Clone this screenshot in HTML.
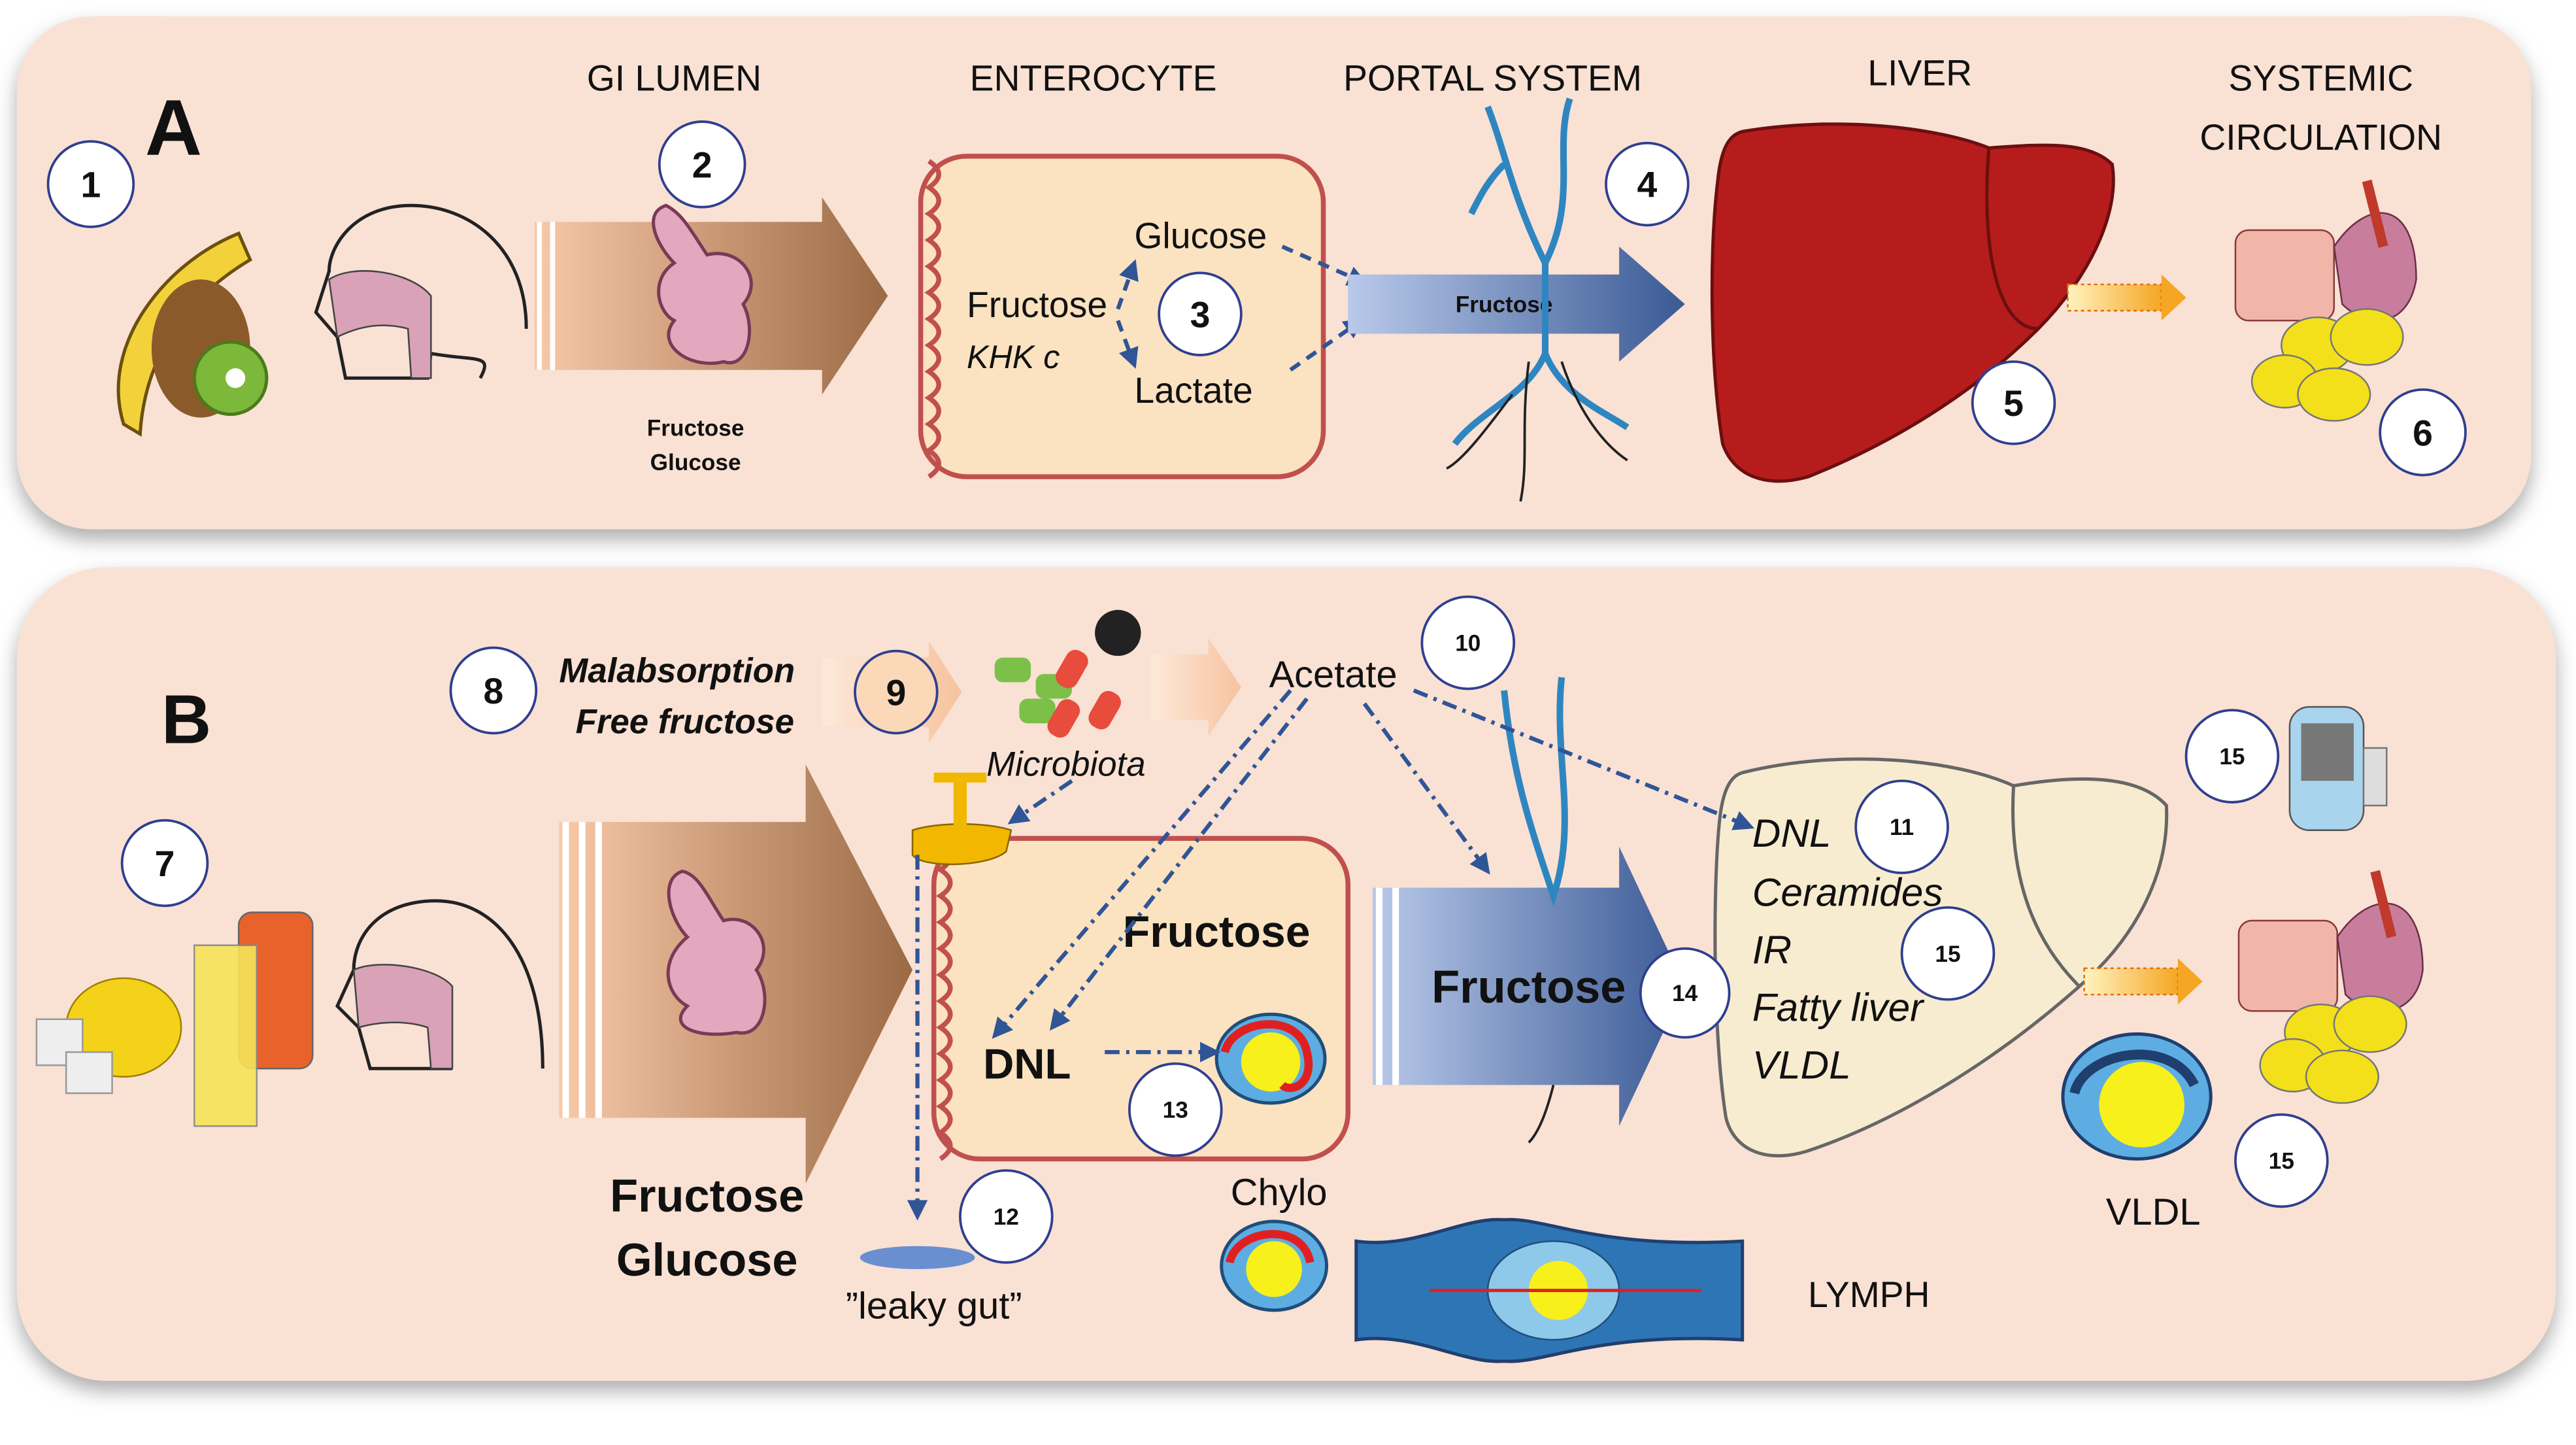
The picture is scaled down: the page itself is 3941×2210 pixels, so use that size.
<!DOCTYPE html>
<html><head><meta charset="utf-8">
<style>
html,body{margin:0;padding:0;background:#fff;}
svg{display:block;}
text{font-family:"Liberation Sans",sans-serif;fill:#111;}
</style></head>
<body>
<svg width="3941" height="2210" viewBox="0 0 1567 879" xmlns="http://www.w3.org/2000/svg">
<defs>
<filter id="sh" x="-5%" y="-10%" width="110%" height="130%"><feDropShadow dx="0" dy="6" stdDeviation="6" flood-color="#888" flood-opacity="0.7"/></filter>
<linearGradient id="ga" x1="0" x2="1"><stop offset="0" stop-color="#f8c9a8"/><stop offset="1" stop-color="#9b6a45"/></linearGradient>
<linearGradient id="gb" x1="0" x2="1"><stop offset="0" stop-color="#b9c9ea"/><stop offset="1" stop-color="#3a5a95"/></linearGradient>
<linearGradient id="gc" x1="0" x2="1"><stop offset="0" stop-color="#fde9d9"/><stop offset="1" stop-color="#f6c39e"/></linearGradient>
<linearGradient id="go" x1="0" x2="1"><stop offset="0" stop-color="#fff3c0"/><stop offset="1" stop-color="#f5a623"/></linearGradient>
<marker id="ah" viewBox="0 0 10 10" refX="8" refY="5" markerWidth="5" markerHeight="5" orient="auto"><path d="M0,0L10,5L0,10z" fill="#2f5597"/></marker>
</defs>

<rect x="10" y="10" width="1530" height="312" rx="45" fill="#f9e1d4" filter="url(#sh)"/>
<rect x="10" y="345" width="1545" height="495" rx="55" fill="#f9e1d4" filter="url(#sh)"/>

<g font-size="22" text-anchor="middle">
<text x="410" y="55">GI LUMEN</text>
<text x="665" y="55">ENTEROCYTE</text>
<text x="908" y="55">PORTAL SYSTEM</text>
<text x="1168" y="52">LIVER</text>
<text x="1412" y="55">SYSTEMIC</text>
<text x="1412" y="91">CIRCULATION</text>
</g>
<text x="88" y="94" font-size="48" font-weight="bold">A</text>
<text x="98" y="452" font-size="42" font-weight="bold">B</text>

<path d="M145,142 C100,160 60,210 75,258 L85,264 C88,215 115,180 152,158 Z" fill="#f3d13a" stroke="#6b5010" stroke-width="2"/>
<ellipse cx="122" cy="212" rx="30" ry="42" fill="#8b5a2b"/>
<circle cx="140" cy="230" r="22" fill="#7cb83a" stroke="#4d7a1a" stroke-width="2"/>
<circle cx="143" cy="230" r="6" fill="#fff"/>
<path d="M320,200 C320,150 285,125 250,125 C215,125 200,150 200,165 L192,190 L205,205 L210,230 L260,230 L262,215 C290,220 300,215 292,230" fill="none" stroke="#222" stroke-width="2"/>
<path d="M200,170 C215,160 250,165 262,180 L262,230 L250,230 L248,200 C230,195 215,200 205,205 Z" fill="#d9a2b6" stroke="#444"/>
<polygon points="325,135 500,135 500,120 540,180 500,240 500,225 325,225" fill="url(#ga)"/>
<line x1="328" y1="135" x2="328" y2="225" stroke="#fff" stroke-width="3"/>
<line x1="336" y1="135" x2="336" y2="225" stroke="#fff" stroke-width="3"/>
<path d="M405,125 C390,130 400,150 410,160 C395,170 400,190 410,195 C398,210 420,225 440,220 C455,225 460,200 452,185 C465,170 450,150 430,155 C420,140 415,130 405,125Z" fill="#e3a8bd" stroke="#7a3a55" stroke-width="2"/>
<text x="423" y="265" font-size="14" font-weight="bold" text-anchor="middle">Fructose</text>
<text x="423" y="286" font-size="14" font-weight="bold" text-anchor="middle">Glucose</text>
<rect x="560" y="95" width="245" height="195" rx="28" fill="#fbe2c0" stroke="#c0504d" stroke-width="3"/>
<path d="M565,98 q12,8 0,16 q12,8 0,16 q12,8 0,16 q12,8 0,16 q12,8 0,16 q12,8 0,16 q12,8 0,16 q12,8 0,16 q12,8 0,16 q12,8 0,16 q12,8 0,16 q12,8 0,16" fill="none" stroke="#c0504d" stroke-width="3"/>
<text x="588" y="193" font-size="22">Fructose</text>
<text x="588" y="224" font-size="20" font-style="italic">KHK c</text>
<text x="690" y="151" font-size="22">Glucose</text>
<text x="690" y="245" font-size="22">Lactate</text>
<g fill="none" stroke="#2f5597" stroke-width="2.5" stroke-dasharray="7,5">
<path d="M680,188 L690,160" marker-end="url(#ah)"/>
<path d="M680,195 L690,222" marker-end="url(#ah)"/>
<path d="M780,150 L830,172" marker-end="url(#ah)"/>
<path d="M785,225 L828,195" marker-end="url(#ah)"/>
</g>
<polygon points="820,167 985,167 985,150 1025,185 985,220 985,203 820,203" fill="url(#gb)"/>
<text x="915" y="190" font-size="14" text-anchor="middle" font-weight="bold" fill="#1a2a4a">Fructose</text>
<g fill="none" stroke="#2e86c1" stroke-width="4">
<path d="M905,65 C915,90 920,120 940,160 C960,120 945,90 955,60"/>
<path d="M940,160 L940,215 C930,240 900,250 885,270"/>
<path d="M940,215 C950,240 975,250 990,260"/>
<path d="M915,100 C905,110 900,120 895,130"/>
</g>
<g fill="none" stroke="#222" stroke-width="1.5">
<path d="M930,220 C925,260 930,280 925,305"/><path d="M950,220 C960,250 975,270 990,280"/><path d="M920,240 C905,260 890,280 880,285"/>
</g>
<path d="M1060,80 C1120,70 1180,78 1210,90 C1240,88 1270,85 1285,100 C1290,130 1270,170 1240,200 C1200,240 1150,270 1100,290 C1075,297 1055,290 1048,270 C1040,220 1040,150 1045,110 C1047,90 1052,82 1060,80Z" fill="#b71c1c" stroke="#6b0f0f" stroke-width="2"/>
<path d="M1210,90 C1205,150 1215,200 1240,200" fill="none" stroke="#6b0f0f" stroke-width="2"/>
<rect x="1258" y="173" width="57" height="16" fill="url(#go)" stroke="#e36c09" stroke-dasharray="2,2"/>
<polygon points="1315,167 1330,181 1315,195" fill="#f5a623"/>
<g>
<rect x="1360" y="140" width="60" height="55" rx="8" fill="#f1b6a8" stroke="#8a3a3a"/>
<path d="M1420,150 C1440,120 1470,120 1470,170 C1465,200 1440,200 1425,185Z" fill="#c77d9b" stroke="#6a2f4a"/>
<path d="M1440,110 L1450,150" stroke="#c0392b" stroke-width="6"/>
<ellipse cx="1410" cy="210" rx="22" ry="17" fill="#f4e01a" stroke="#777"/>
<ellipse cx="1440" cy="205" rx="22" ry="17" fill="#f4e01a" stroke="#777"/>
<ellipse cx="1390" cy="232" rx="20" ry="16" fill="#f4e01a" stroke="#777"/>
<ellipse cx="1420" cy="240" rx="22" ry="16" fill="#f4e01a" stroke="#777"/>
</g>

<text x="340" y="415" font-size="21" font-weight="bold" font-style="italic">Malabsorption</text>
<text x="350" y="446" font-size="21" font-weight="bold" font-style="italic">Free fructose</text>
<polygon points="500,400 565,400 565,390 585,421 565,452 565,442 500,442" fill="url(#gc)"/>
<polygon points="700,398 735,398 735,388 755,418 735,448 735,438 700,438" fill="url(#gc)"/>
<rect x="605" y="400" width="22" height="15" rx="5" fill="#7cc04a"/>
<rect x="630" y="410" width="22" height="15" rx="5" fill="#7cc04a"/>
<rect x="620" y="425" width="22" height="15" rx="5" fill="#7cc04a"/>
<rect x="645" y="395" width="14" height="24" rx="6" fill="#e74c3c" transform="rotate(30 652 407)"/>
<rect x="640" y="425" width="14" height="24" rx="6" fill="#e74c3c" transform="rotate(30 647 437)"/>
<rect x="665" y="420" width="14" height="24" rx="6" fill="#e74c3c" transform="rotate(30 672 432)"/>
<circle cx="680" cy="385" r="14" fill="#222"/>
<text x="600" y="472" font-size="21" font-style="italic">Microbiota</text>
<text x="772" y="418" font-size="23">Acetate</text>
<rect x="145" y="555" width="45" height="95" rx="8" fill="#e8632b" stroke="#666"/>
<ellipse cx="75" cy="625" rx="35" ry="30" fill="#f4d21a" stroke="#a08000"/>
<rect x="118" y="575" width="38" height="110" fill="#f6e45a" opacity="0.9" stroke="#888"/>
<rect x="22" y="620" width="28" height="28" fill="#eee" stroke="#999"/>
<rect x="40" y="640" width="28" height="25" fill="#eee" stroke="#999"/>
<path d="M330,650 C330,580 300,548 265,548 C230,548 215,570 215,590 L205,612 L218,625 L225,650 L275,650" fill="none" stroke="#222" stroke-width="2"/>
<path d="M215,590 C230,583 265,588 275,600 L275,650 L262,650 L260,625 C245,620 228,622 218,625Z" fill="#d9a2b6" stroke="#444"/>
<polygon points="340,500 490,500 490,465 555,590 490,720 490,680 340,680" fill="url(#ga)"/>
<line x1="344" y1="500" x2="344" y2="680" stroke="#fff" stroke-width="4"/>
<line x1="354" y1="500" x2="354" y2="680" stroke="#fff" stroke-width="4"/>
<line x1="364" y1="500" x2="364" y2="680" stroke="#fff" stroke-width="4"/>
<path d="M415,530 C400,535 408,560 418,570 C400,585 405,605 418,612 C405,625 425,632 448,628 C465,632 470,605 460,590 C472,575 458,555 440,560 C430,545 425,532 415,530Z" fill="#e3a8bd" stroke="#7a3a55" stroke-width="2"/>
<text x="430" y="737" font-size="28" font-weight="bold" text-anchor="middle">Fructose</text>
<text x="430" y="776" font-size="28" font-weight="bold" text-anchor="middle">Glucose</text>
<rect x="568" y="510" width="252" height="195" rx="28" fill="#fbe2c0" stroke="#c0504d" stroke-width="3"/>
<path d="M572,513 q12,8 0,16 q12,8 0,16 q12,8 0,16 q12,8 0,16 q12,8 0,16 q12,8 0,16 q12,8 0,16 q12,8 0,16 q12,8 0,16 q12,8 0,16 q12,8 0,16 q12,8 0,16" fill="none" stroke="#c0504d" stroke-width="3"/>
<path d="M555,505 L555,520 C560,528 600,528 612,518 L615,505 C600,500 570,500 555,505Z" fill="#f2b700" stroke="#8a6500"/>
<rect x="580" y="473" width="8" height="30" fill="#f2b700"/>
<rect x="568" y="470" width="32" height="6" fill="#f2b700"/>
<text x="683" y="576" font-size="27" font-weight="bold">Fructose</text>
<text x="598" y="656" font-size="26" font-weight="bold">DNL</text>
<ellipse cx="773" cy="644" rx="33" ry="27" fill="#5dade2" stroke="#1f4e79" stroke-width="2"/>
<circle cx="773" cy="646" r="18" fill="#f7f01a"/>
<path d="M745,640 C750,620 790,615 795,640 C800,660 785,665 780,660" fill="none" stroke="#e02020" stroke-width="5"/>
<ellipse cx="558" cy="765" rx="35" ry="7" fill="#6a8fd0"/>
<text x="568" y="802" font-size="23" text-anchor="middle">”leaky gut”</text>
<text x="778" y="733" font-size="23" text-anchor="middle">Chylo</text>
<ellipse cx="775" cy="770" rx="32" ry="27" fill="#5dade2" stroke="#1f4e79" stroke-width="2"/>
<circle cx="775" cy="772" r="17" fill="#f7f01a"/>
<path d="M748,768 C752,748 792,742 797,768" fill="none" stroke="#e02020" stroke-width="5"/>
<path d="M825,755 C860,760 890,740 915,742 C940,740 970,760 1060,755 L1060,815 C970,810 940,830 915,828 C890,830 860,810 825,815Z" fill="#2e75b6" stroke="#1f3f6f" stroke-width="2"/>
<ellipse cx="945" cy="785" rx="40" ry="30" fill="#8ec9ea" stroke="#1f4e79"/>
<circle cx="948" cy="785" r="18" fill="#f7f01a"/>
<line x1="870" y1="785" x2="1035" y2="785" stroke="#e02020" stroke-width="2"/>
<text x="1137" y="795" font-size="22" text-anchor="middle">LYMPH</text>
<polygon points="835,540 985,540 985,515 1025,600 985,685 985,660 835,660" fill="url(#gb)"/>
<line x1="839" y1="540" x2="839" y2="660" stroke="#fff" stroke-width="4"/>
<line x1="849" y1="540" x2="849" y2="660" stroke="#fff" stroke-width="4"/>
<g fill="none" stroke="#2e86c1" stroke-width="4">
<path d="M915,420 C920,470 930,500 945,545 C960,500 945,460 950,412"/>
</g>
<path d="M945,660 C940,680 935,690 930,695" fill="none" stroke="#222" stroke-width="1.5"/>
<text x="930" y="610" font-size="28" font-weight="bold" text-anchor="middle" fill="#1a1a2e">Fructose</text>
<path d="M1060,470 C1120,455 1190,462 1225,478 C1260,472 1300,470 1318,490 C1320,530 1300,570 1265,600 C1220,640 1160,680 1100,700 C1075,708 1055,700 1050,680 C1042,630 1042,540 1046,500 C1048,480 1053,472 1060,470Z" fill="#f7ecd0" stroke="#666" stroke-width="2"/>
<path d="M1225,478 C1222,530 1235,570 1265,600" fill="none" stroke="#666" stroke-width="2"/>
<g font-size="24" font-style="italic">
<text x="1066" y="515">DNL</text>
<text x="1066" y="551">Ceramides</text>
<text x="1066" y="586">IR</text>
<text x="1066" y="621">Fatty liver</text>
<text x="1066" y="656">VLDL</text>
</g>
<rect x="1268" y="589" width="57" height="16" fill="url(#go)" stroke="#e36c09" stroke-dasharray="2,2"/>
<polygon points="1325,583 1340,597 1325,611" fill="#f5a623"/>
<rect x="1393" y="430" width="45" height="75" rx="12" fill="#a9d4ee" stroke="#555"/>
<rect x="1400" y="440" width="32" height="35" fill="#777"/>
<rect x="1438" y="455" width="14" height="35" fill="#ddd" stroke="#777"/>
<g>
<rect x="1362" y="560" width="60" height="55" rx="8" fill="#f1b6a8" stroke="#8a3a3a"/>
<path d="M1422,570 C1442,540 1474,540 1474,590 C1470,620 1442,620 1427,605Z" fill="#c77d9b" stroke="#6a2f4a"/>
<path d="M1445,530 L1455,570" stroke="#c0392b" stroke-width="6"/>
<ellipse cx="1412" cy="628" rx="22" ry="17" fill="#f4e01a" stroke="#777"/>
<ellipse cx="1442" cy="623" rx="22" ry="17" fill="#f4e01a" stroke="#777"/>
<ellipse cx="1395" cy="648" rx="20" ry="16" fill="#f4e01a" stroke="#777"/>
<ellipse cx="1425" cy="655" rx="22" ry="16" fill="#f4e01a" stroke="#777"/>
</g>
<ellipse cx="1300" cy="667" rx="45" ry="38" fill="#5dade2" stroke="#1f3f6f" stroke-width="2"/>
<circle cx="1303" cy="672" r="26" fill="#f7f01a"/>
<path d="M1262,665 C1268,640 1320,630 1335,660" fill="none" stroke="#1f3f6f" stroke-width="6"/>
<text x="1310" y="745" font-size="23" text-anchor="middle">VLDL</text>
<g fill="none" stroke="#2f5597" stroke-width="2.5" stroke-dasharray="9,4,2,4">
<path d="M652,475 L615,500" marker-end="url(#ah)"/>
<path d="M785,420 L605,630" marker-end="url(#ah)"/>
<path d="M795,425 L640,625" marker-end="url(#ah)"/>
<path d="M830,428 L905,530" marker-end="url(#ah)"/>
<path d="M860,420 L1065,503" marker-end="url(#ah)"/>
<path d="M558,520 L558,740" marker-end="url(#ah)"/>
<path d="M672,640 L740,640" marker-end="url(#ah)"/>
</g>
<g fill="#fff" stroke="#2f3f8f" stroke-width="1.5">
<circle cx="55" cy="112" r="26"/><circle cx="427" cy="100" r="26"/><circle cx="730" cy="191" r="25"/>
<circle cx="1002" cy="112" r="25"/><circle cx="1225" cy="245" r="25"/><circle cx="1474" cy="263" r="26"/>
<circle cx="300" cy="420" r="26"/><circle cx="545" cy="421" r="25" fill="#fbd8b8"/><circle cx="893" cy="391" r="28"/>
<circle cx="100" cy="525" r="26"/><circle cx="1157" cy="503" r="28"/><circle cx="1185" cy="580" r="28"/>
<circle cx="1358" cy="460" r="28"/><circle cx="1388" cy="706" r="28"/><circle cx="1025" cy="604" r="27"/>
<circle cx="612" cy="740" r="28"/><circle cx="715" cy="675" r="28"/>
</g>
<g font-size="22" text-anchor="middle" font-weight="bold">
<text x="55" y="120">1</text><text x="427" y="108">2</text><text x="730" y="199">3</text>
<text x="1002" y="120">4</text><text x="1225" y="253">5</text><text x="1474" y="271">6</text>
<text x="300" y="428">8</text><text x="545" y="429">9</text><text x="100" y="533">7</text>
</g>
<g font-size="14" text-anchor="middle" font-weight="bold">
<text x="893" y="396">10</text><text x="1157" y="508">11</text><text x="1185" y="585">15</text>
<text x="1358" y="465">15</text><text x="1388" y="711">15</text><text x="1025" y="609">14</text>
<text x="612" y="745">12</text><text x="715" y="680">13</text>
</g>
</svg>
</body></html>
